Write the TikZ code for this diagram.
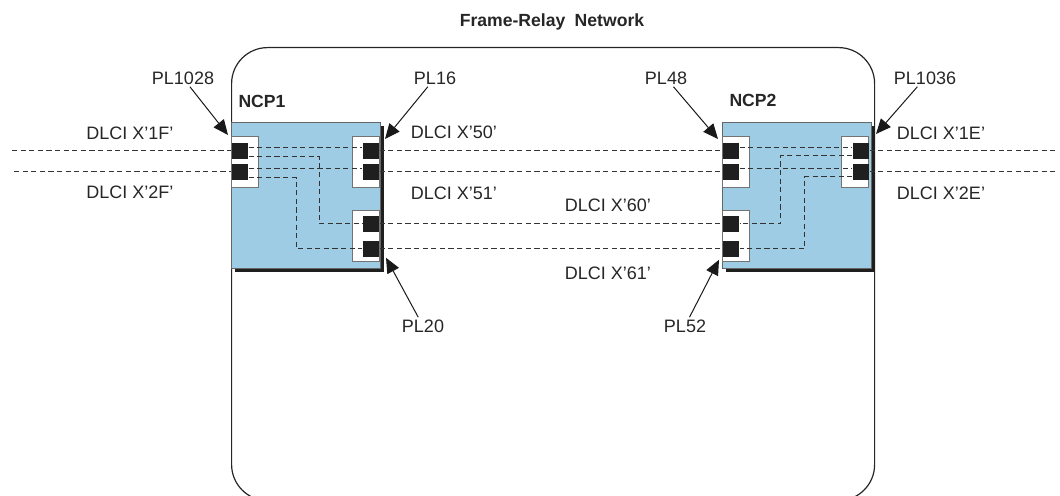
\documentclass[tikz,border=0pt]{standalone}
\usepackage{fontspec}
\setmainfont{Liberation Sans}
\usepackage{tikz}
\usetikzlibrary{arrows.meta,positioning,calc,shadows}
\definecolor{ncpBlue}{RGB}{158,204,228}
\definecolor{lineGray}{HTML}{333333}
\begin{document}
\begin{tikzpicture}[
  x=0.5pt,y=-0.5pt,
  font=\fontsize{9}{10}\selectfont,
  netbox/.style={draw=black!85,line width=0.6pt,rounded corners=18pt,anchor=north west,
    minimum width=321.5pt,minimum height=226.5pt,inner sep=0},
  ncp/.style={draw=black!60,line width=0.4pt,fill=ncpBlue,anchor=north west,inner sep=0,
    minimum width=74.5pt,minimum height=73pt,
    drop shadow={shadow xshift=1.6pt,shadow yshift=-1.6pt,fill=black!88,opacity=1}},
  grp/.style={draw=black!55,line width=0.4pt,fill=white,inner sep=0,
    minimum width=13.5pt,minimum height=25.5pt},
  port/.style={fill=black!88,inner sep=0,minimum width=8.2pt,minimum height=8pt},
  lbl/.style={text=black!85,inner sep=1pt},
  hdr/.style={lbl,font=\fontsize{8.8}{10}\selectfont\bfseries},
  dline/.style={lineGray,line width=0.5pt,dash pattern=on 2.6pt off 1.7pt},
  arr/.style={-{Triangle[length=7.5pt,width=6.5pt]},line width=0.5pt,black!90}]
  \useasboundingbox (0,0) rectangle (1060,496);
  \clip (0,0) rectangle (1060,496);
  % network cloud
  \node[netbox] (frn) at (231,47) {};
  \node[hdr] (title) at (552,22) {Frame-Relay\hspace{0.25em} Network};
  % the two NCPs
  \node[ncp] (ncp1) at (231,122) {};
  \node[ncp] (ncp2) at (722,122) {};
  \node[hdr] (ncp1lbl) at (262,101) {NCP1};
  \node[hdr] (ncp2lbl) at (753,100) {NCP2};
  % port groups
  \node[grp,anchor=north west] (g1l) at (231,136) {};
  \node[grp,anchor=north east] (g1rt) at (380,136) {};
  \node[grp,anchor=north east] (g1rb) at (380,210) {};
  \node[grp,anchor=north west] (g2lt) at (722,136) {};
  \node[grp,anchor=north west] (g2lb) at (722,210) {};
  \node[grp,anchor=north east] (g2r) at (869,136) {};
  % ports
  \node[port] (p1a) at (240,151) {};
  \node[port] (p1b) at (240,172) {};
  \node[port] (p1c) at (371,151) {};
  \node[port] (p1d) at (371,172) {};
  \node[port] (p1e) at (371,224) {};
  \node[port] (p1f) at (371,249) {};
  \node[port] (p2a) at (731,151) {};
  \node[port] (p2b) at (731,172) {};
  \node[port] (p2c) at (731,224) {};
  \node[port] (p2d) at (731,249) {};
  \node[port] (p2e) at (861,151) {};
  \node[port] (p2f) at (861,172) {};
  % switching inside NCP1
  \draw[dline] ($(p1a.east)+(0,-3)$) -- ($(p1c.west)+(0,-3)$);
  \draw[dline] ($(p1a.east)+(0,6)$) -- ++(71,0) |- (p1e.west);
  \draw[dline] ($(p1b.east)+(0,-3)$) -- ($(p1d.west)+(0,-3)$);
  \draw[dline] ($(p1b.east)+(0,6)$) -- ++(48,0) |- (p1f.west);
  % switching inside NCP2
  \draw[dline] ($(p2a.east)+(0,-3)$) -- ($(p2e.west)+(0,-3)$);
  \draw[dline] ($(p2e.west)+(0,5)$) -- ++(-72,0) |- (p2c.east);
  \draw[dline] ($(p2b.east)+(0,-3)$) -- ($(p2f.west)+(0,-3)$);
  \draw[dline] ($(p2f.west)+(0,5)$) -- ++(-48,0) |- (p2d.east);
  % trunks and access links
  \coordinate (wa) at (12,151);
  \coordinate (wb) at (14,172);
  \coordinate (ea) at (1056,151);
  \coordinate (eb) at (1056,172);
  \draw[dline] (wa) -- (p1a.west);
  \draw[dline] (wb) -- (p1b.west);
  \draw[dline] (p1c.east) -- (p2a.west);
  \draw[dline] (p1d.east) -- (p2b.west);
  \draw[dline] (p1e.east) -- (p2c.west);
  \draw[dline] (p1f.east) -- (p2d.west);
  \draw[dline] (p2e.east) -- (ea);
  \draw[dline] (p2f.east) -- (eb);
  % DLCI labels
  \node[lbl] (d1f) at (130,133) {DLCI X'1F'};
  \node[lbl] (d2f) at (130,192) {DLCI X'2F'};
  \node[lbl] (d50) at (454,132) {DLCI X'50'};
  \node[lbl] (d51) at (454,193) {DLCI X'51'};
  \node[lbl] (d60) at (608,205) {DLCI X'60'};
  \node[lbl] (d61) at (608,273) {DLCI X'61'};
  \node[lbl] (d1e) at (941,133) {DLCI X'1E'};
  \node[lbl] (d2e) at (941,193) {DLCI X'2E'};
  % physical link labels
  \node[lbl] (pl1028) at (183,78) {PL1028};
  \node[lbl] (pl16) at (435,78) {PL16};
  \node[lbl] (pl48) at (666,78) {PL48};
  \node[lbl] (pl1036) at (925,78) {PL1036};
  \node[lbl] (pl20) at (423,326) {PL20};
  \node[lbl] (pl52) at (685,326) {PL52};
  \draw[arr] (pl1028) -- ($(g1l.north west)+(-3,-1)$);
  \draw[arr] (pl16) -- ($(g1rt.north east)+(5,3)$);
  \draw[arr] (pl20) -- ($(g1rb.south east)+(6,-4)$);
  \draw[arr] (pl52) -- ($(g2lb.south west)+(-3,-2)$);
  \draw[arr] (pl48) -- ($(g2lt.north west)+(-4,3)$);
  \draw[arr] (pl1036) -- ($(g2r.north east)+(7,-2)$);
\end{tikzpicture}
\end{document}
